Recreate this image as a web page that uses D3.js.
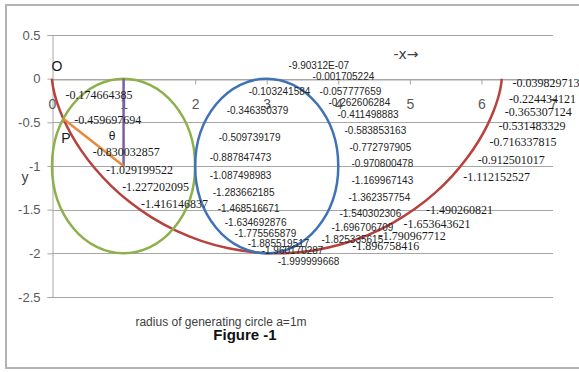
<!DOCTYPE html>
<html>
<head>
<meta charset="utf-8">
<script src="https://cdn.jsdelivr.net/npm/d3@7"></script>
<style>
  html, body { margin: 0; padding: 0; background: #fff; }
  svg { display: block; }
</style>
</head>
<body>
<svg id="chart" width="579" height="372"></svg>
<script>
// ---------- DATA ----------
const xTicks = [0, 1, 2, 3, 4, 5, 6, 7];
const yTicks = [0.5, 0, -0.5, -1, -1.5, -2, -2.5];

// cycloid a=1
const cycloidX = [0, 0.00133, 0.01058, 0.03536, 0.08264, 0.15853, 0.26796, 0.41455, 0.60043, 0.82615,
  1.09070, 1.39150, 1.72454, 2.08450, 2.46501, 2.85888, 3.25837, 3.65554, 4.04252, 4.41186,
  4.75680, 5.07158, 5.35160, 5.59369, 5.79616, 5.95892, 6.08345, 6.17276, 6.23127, 6.26460,
  6.27942, 6.28309, 6.28319];
const cycloidY = [0, -0.01993, -0.07894, -0.17466, -0.30329, -0.45970, -0.63764, -0.83003, -1.02920, -1.22720,
  -1.41615, -1.58850, -1.73739, -1.85689, -1.94222, -1.98999, -1.99829, -1.96680, -1.89676, -1.79097,
  -1.65364, -1.49026, -1.30733, -1.11215, -0.91250, -0.71634, -0.53148, -0.36531, -0.22443, -0.11448,
  -0.03983, -0.00346, 0];

// data labels on the cycloid
const cycloidLabelIndex = [3, 5, 7, 8, 9, 10, 18, 19, 20, 21, 23, 24, 25, 26, 27, 28, 30];
const cycloidLabelText = ["-0.174664385", "-0.459697694", "-0.830032857", "-1.029199522", "-1.227202095",
  "-1.416146837", "-1.896758416", "-1.790967712", "-1.653643621", "-1.490260821", "-1.112152527",
  "-0.912501017", "-0.716337815", "-0.531483329", "-0.365307124", "-0.224434121", "-0.039829713"];

// generating circles (centre x, centre y, radius)
const circleCX = [1, 3];
const circleCY = [-1, -1];
const circleR = [1, 1];

// radius lines
const purpleX = [1, 1];
const purpleY = [0, -1];
const orangeX = [0.15853, 1];
const orangeY = [-0.45970, -1];

// data labels of the second circle (anchor points in data units)
const blueLabelX = [3.124, 3.459, 2.566, 3.557, 3.682, 2.259, 3.808, 2.148, 3.905, 2.022, 3.975, 2.022, 4.003,
  2.064, 4.003, 2.134, 3.961, 2.232, 3.835, 2.371, 3.724, 2.552, 3.584, 2.748, 2.971];
const blueLabelY = [0.149, 0.023, -0.149, -0.149, -0.275, -0.367, -0.412, -0.676, -0.596, -0.905, -0.790, -1.111,
  -0.974, -1.306, -1.168, -1.489, -1.363, -1.649, -1.546, -1.775, -1.707, -1.890, -1.844, -1.970, -2.096];
const blueLabelText = ["-9.90312E-07", "-0.001705224", "-0.103241584", "-0.057777659", "-0.262606284",
  "-0.346350379", "-0.411498883", "-0.509739179", "-0.583853163", "-0.887847473", "-0.772797905",
  "-1.087498983", "-0.970800478", "-1.283662185", "-1.169967143", "-1.468516671", "-1.362357754",
  "-1.634692876", "-1.540302306", "-1.775565879", "-1.696706709", "-1.885519517", "-1.825335615",
  "-1.960170287", "-1.999999668"];

// ---------- DRAW ----------
const svg = d3.select("#chart");
const x = d3.scaleLinear().domain([0, 7]).range([52, 553]);
const y = d3.scaleLinear().domain([0.5, -2.5]).range([35, 297]);

// outer border
svg.append("rect").attr("x", 6).attr("y", 5).attr("width", 600).attr("height", 363)
  .attr("fill", "#fff").attr("stroke", "#b4b4b4").attr("stroke-width", 2);

const gridColor = "#a6a6a6";
// horizontal gridlines
svg.append("g").selectAll("line").data(yTicks).join("line")
  .attr("x1", x(0)).attr("x2", x(7))
  .attr("y1", d => Math.round(y(d)) + 0.5).attr("y2", d => Math.round(y(d)) + 0.5)
  .attr("stroke", gridColor).attr("stroke-width", 1);

// y axis
const yAxis = svg.append("g").attr("transform", `translate(${Math.round(x(0)) + 0.5},0)`)
  .call(d3.axisLeft(y).tickValues(yTicks).tickSize(5).tickPadding(7).tickFormat(d => String(d)));
yAxis.select(".domain").attr("stroke", gridColor);
yAxis.selectAll(".tick line").attr("stroke", gridColor);
yAxis.selectAll("text").attr("font-family", "Liberation Sans, Arial, sans-serif")
  .attr("font-size", 13).attr("fill", "#595959");

// x axis at y = 0
const xAxis = svg.append("g").attr("transform", `translate(0,${Math.round(y(0)) + 0.5})`)
  .call(d3.axisBottom(x).tickValues(xTicks).tickSize(5).tickPadding(15).tickFormat(d => String(d)));
xAxis.select(".domain").attr("stroke", gridColor);
xAxis.selectAll(".tick line").attr("stroke", gridColor);
xAxis.selectAll("text").attr("font-family", "Liberation Sans, Arial, sans-serif")
  .attr("font-size", 14).attr("fill", "#595959");

// cycloid
const cyc = cycloidX.map((v, i) => [v, cycloidY[i]]);
svg.append("path").datum(cyc)
  .attr("d", d3.line().x(d => x(d[0])).y(d => y(d[1])).curve(d3.curveCatmullRom))
  .attr("fill", "none").attr("stroke", "#b8403d").attr("stroke-width", 2.5);

// circles (ellipses because of the unequal scales)
const circColors = ["#8eb04c", "#3f73b5"];
svg.append("g").selectAll("ellipse").data(circleCX).join("ellipse")
  .attr("cx", (d, i) => x(d)).attr("cy", (d, i) => y(circleCY[i]))
  .attr("rx", (d, i) => x(circleR[i]) - x(0)).attr("ry", (d, i) => y(-circleR[i]) - y(0))
  .attr("fill", "none").attr("stroke", (d, i) => circColors[i]).attr("stroke-width", 2.5);

// radius lines
const lineGen = d3.line().x(d => x(d[0])).y(d => y(d[1]));
svg.append("path").datum(purpleX.map((v, i) => [v, purpleY[i]]))
  .attr("d", lineGen).attr("stroke", "#7d5fa0").attr("stroke-width", 2.5).attr("fill", "none");
svg.append("path").datum(orangeX.map((v, i) => [v, orangeY[i]]))
  .attr("d", lineGen).attr("stroke", "#e8893c").attr("stroke-width", 2.5).attr("fill", "none");

// cycloid labels
svg.append("g").selectAll("text").data(cycloidLabelIndex).join("text")
  .attr("x", d => x(cycloidX[d]) + 11)
  .attr("y", d => y(cycloidY[d]) + 1)
  .attr("dy", "0.35em")
  .attr("font-family", "Liberation Serif, 'Times New Roman', serif")
  .attr("font-size", 12).attr("fill", "#1a1a1a")
  .text((d, i) => cycloidLabelText[i]);

// blue circle labels
svg.append("g").selectAll("text").data(blueLabelX).join("text")
  .attr("x", d => x(d) + 13)
  .attr("y", (d, i) => y(blueLabelY[i]))
  .attr("dy", "0.35em")
  .attr("font-family", "Liberation Sans, Arial, sans-serif")
  .attr("font-size", 10).attr("fill", "#262626")
  .text((d, i) => blueLabelText[i]);

// annotations
const ann = svg.append("g").attr("font-family", "Liberation Sans, Arial, sans-serif").attr("fill", "#1a1a1a");
ann.append("text").attr("x", 57).attr("y", 71).attr("text-anchor", "middle").attr("font-size", 14).text("O");
ann.append("text").attr("x", 66).attr("y", 143).attr("text-anchor", "middle").attr("font-size", 14).text("P");
ann.append("text").attr("x", 112).attr("y", 140).attr("text-anchor", "middle").attr("font-size", 12).text("θ");
ann.append("text").attr("x", 25).attr("y", 182).attr("text-anchor", "middle").attr("font-size", 14).attr("fill", "#404040").text("y");
ann.append("text").attr("x", 406).attr("y", 59).attr("text-anchor", "middle").attr("font-size", 14)
  .attr("font-family", "DejaVu Sans, sans-serif").attr("fill", "#404040").text("-x→");
ann.append("text").attr("x", 221).attr("y", 326).attr("text-anchor", "middle").attr("font-size", 12).attr("fill", "#404040").text("radius of generating circle a=1m");
ann.append("text").attr("x", 245).attr("y", 340).attr("text-anchor", "middle").attr("font-size", 15).attr("font-weight", "bold").attr("fill", "#111").text("Figure -1");
</script>
</body>
</html>
